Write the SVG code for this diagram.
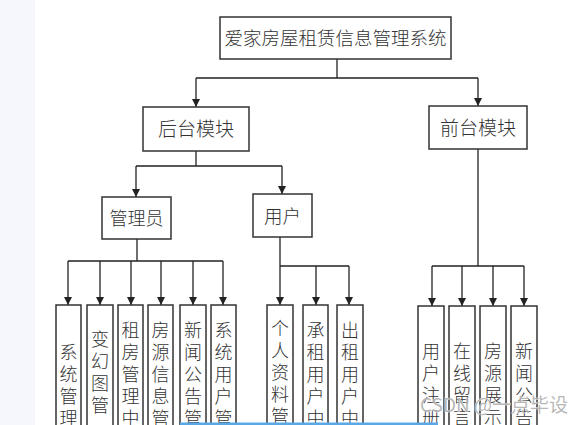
<svg xmlns="http://www.w3.org/2000/svg" width="588" height="425" viewBox="0 0 588 425">
<style>
.box{fill:#fff;stroke:#333;stroke-width:1.5}
.t{font-family:"Noto Sans CJK SC","Noto Sans CJK JP",sans-serif;font-weight:300;fill:#333;text-anchor:middle}
.h{font-size:18.5px}
.v{font-family:"Noto Sans CJK SC","Noto Sans CJK JP",sans-serif;font-weight:300;fill:#333;font-size:18px;writing-mode:vertical-rl;letter-spacing:4px;text-anchor:start}
.c{fill:none;stroke:#222;stroke-width:1.3}
.wm{font-family:"Noto Sans CJK SC","Liberation Sans",sans-serif;font-size:19px;fill:#aaa;fill-opacity:0.85;stroke:#fff;stroke-width:0.6;paint-order:stroke}
</style>
<defs>
<marker id="ah" viewBox="0 0 10 10" refX="10" refY="5" markerWidth="10" markerHeight="8" markerUnits="userSpaceOnUse" orient="auto">
<path d="M0,0 L10,5 L0,10 z" fill="#222"/>
</marker>
</defs>
<rect x="0" y="0" width="588" height="425" fill="#fff"/>
<rect x="0" y="0" width="35" height="425" fill="#f5f7fc"/>

<g id="connectors">
<path class="c" d="M337 59 V78 M196 78 H478"/>
<path class="c" d="M196 78 V107" marker-end="url(#ah)"/>
<path class="c" d="M478 78 V106" marker-end="url(#ah)"/>
<path class="c" d="M196 151 V166 M136 166 H282"/>
<path class="c" d="M136 166 V197" marker-end="url(#ah)"/>
<path class="c" d="M282 166 V194" marker-end="url(#ah)"/>
<path class="c" d="M137 239 V261 M68 261 H223"/>
<path class="c" d="M68 261 V305" marker-end="url(#ah)"/>
<path class="c" d="M100 261 V305" marker-end="url(#ah)"/>
<path class="c" d="M131 261 V305" marker-end="url(#ah)"/>
<path class="c" d="M161 261 V305" marker-end="url(#ah)"/>
<path class="c" d="M193 261 V305" marker-end="url(#ah)"/>
<path class="c" d="M223 261 V305" marker-end="url(#ah)"/>
<path class="c" d="M280 237 V266 M280 266 H349"/>
<path class="c" d="M280 266 V305" marker-end="url(#ah)"/>
<path class="c" d="M316 266 V305" marker-end="url(#ah)"/>
<path class="c" d="M349 266 V305" marker-end="url(#ah)"/>
<path class="c" d="M478 149 V266 M432 266 H524"/>
<path class="c" d="M432 266 V306" marker-end="url(#ah)"/>
<path class="c" d="M462 266 V306" marker-end="url(#ah)"/>
<path class="c" d="M493 266 V306" marker-end="url(#ah)"/>
<path class="c" d="M524 266 V306" marker-end="url(#ah)"/>
</g>

<g id="root"><rect class="box" x="220" y="17" width="231" height="42"/><text class="t h" x="335.5" y="45">爱家房屋租赁信息管理系统</text></g>
<g id="backend"><rect class="box" x="143" y="107" width="106" height="44"/><text class="t" style="font-size:19px" x="196" y="136">后台模块</text></g>
<g id="frontend"><rect class="box" x="429" y="106" width="98" height="43"/><text class="t" style="font-size:19px" x="478" y="135">前台模块</text></g>
<g id="admin"><rect class="box" x="102" y="197" width="69" height="42"/><text class="t" style="font-size:18px" x="136.5" y="225">管理员</text></g>
<g id="user"><rect class="box" x="253" y="194" width="59" height="43"/><text class="t" style="font-size:18.5px" x="282.5" y="223">用户</text></g>

<g id="n1"><rect class="box" x="56" y="305" width="25" height="130"/><text class="v" x="68.5" y="343">系统管理</text></g>
<g id="n2"><rect class="box" x="87" y="305" width="26" height="130"/><text class="v" x="100" y="330">变幻图管</text></g>
<g id="n3"><rect class="box" x="118" y="305" width="25" height="130"/><text class="v" x="130.5" y="321">租房管理中</text></g>
<g id="n4"><rect class="box" x="148" y="305" width="25" height="130"/><text class="v" x="160.5" y="321">房源信息管</text></g>
<g id="n5"><rect class="box" x="180" y="305" width="26" height="130"/><text class="v" x="193" y="321">新闻公告管</text></g>
<g id="n6"><rect class="box" x="211" y="305" width="25" height="130"/><text class="v" x="223.5" y="321">系统用户管</text></g>
<g id="n7"><rect class="box" x="267" y="305" width="26" height="130"/><text class="v" x="280" y="319">个人资料管</text></g>
<g id="n8"><rect class="box" x="303" y="305" width="25" height="130"/><text class="v" x="315.5" y="321">承租用户中</text></g>
<g id="n9"><rect class="box" x="337" y="305" width="26" height="130"/><text class="v" x="350" y="321">出租用户中</text></g>
<g id="n10"><rect class="box" x="418" y="306" width="26" height="130"/><text class="v" x="431" y="342">用户注册</text></g>
<g id="n11"><rect class="box" x="449" y="306" width="26" height="130"/><text class="v" x="462" y="342">在线留言</text></g>
<g id="n12"><rect class="box" x="480" y="306" width="26" height="130"/><text class="v" x="493" y="342">房源展示</text></g>
<g id="n13"><rect class="box" x="511" y="306" width="26" height="130"/><text class="v" x="524" y="342">新闻公告</text></g>

<text class="wm" x="420" y="412">CSDN @一点毕设</text>
<rect x="180" y="422.5" width="258" height="2.5" fill="#5aa9e6"/>
</svg>
